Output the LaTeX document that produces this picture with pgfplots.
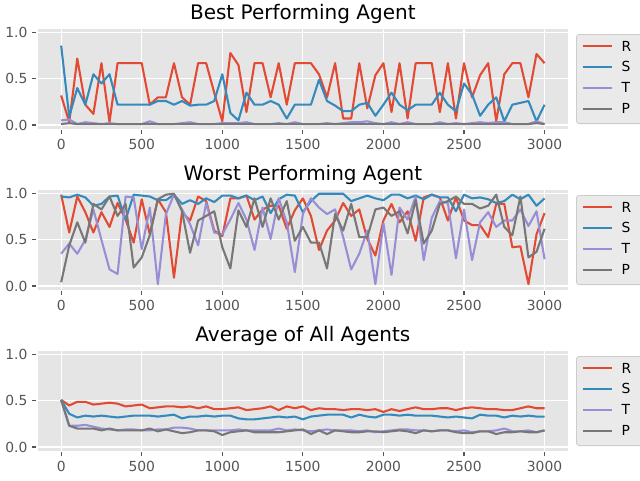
\documentclass[border=0pt]{standalone}
\usepackage{pgfplots}
\usepackage{pgfplotstable}
\pgfplotsset{compat=1.18}
\usepackage{fontspec}
\setmainfont{DejaVu Sans}

\definecolor{ggR}{HTML}{E24A33}
\definecolor{ggS}{HTML}{348ABD}
\definecolor{ggT}{HTML}{988ED5}
\definecolor{ggP}{HTML}{777777}
\definecolor{ggbg}{HTML}{E5E5E5}
\definecolor{ggleg}{HTML}{EAEAEA}
\definecolor{ggedge}{HTML}{CCCCCC}
\definecolor{gg555}{HTML}{555555}

\pgfplotstableread{
x R S T P
0 0.32 0.86 0.05 0.01
50 0.03 0.09 0.06 0.02
100 0.72 0.40 0.01 0.01
150 0.22 0.22 0.03 0.01
200 0.12 0.55 0.02 0.01
250 0.67 0.45 0.01 0.01
300 0.03 0.55 0.02 0.01
350 0.67 0.22 0.01 0.01
400 0.67 0.22 0.01 0.01
450 0.67 0.22 0.01 0.01
500 0.67 0.22 0.01 0.01
550 0.22 0.22 0.04 0.01
600 0.30 0.26 0.01 0.01
650 0.30 0.26 0.01 0.01
700 0.67 0.22 0.01 0.01
750 0.30 0.26 0.02 0.01
800 0.22 0.21 0.03 0.01
850 0.67 0.22 0.01 0.01
900 0.67 0.22 0.01 0.01
950 0.35 0.26 0.01 0.01
1000 0.04 0.55 0.02 0.01
1050 0.78 0.13 0.02 0.01
1100 0.65 0.05 0.02 0.01
1150 0.14 0.35 0.03 0.01
1200 0.67 0.22 0.01 0.01
1250 0.67 0.22 0.01 0.01
1300 0.30 0.26 0.01 0.01
1350 0.67 0.22 0.02 0.01
1400 0.22 0.07 0.01 0.01
1450 0.67 0.22 0.03 0.01
1500 0.67 0.22 0.01 0.01
1550 0.67 0.22 0.01 0.01
1600 0.55 0.49 0.01 0.01
1650 0.30 0.26 0.02 0.01
1700 0.67 0.21 0.01 0.01
1750 0.07 0.15 0.02 0.01
1800 0.07 0.15 0.03 0.01
1850 0.67 0.22 0.03 0.01
1900 0.18 0.24 0.04 0.01
1950 0.54 0.10 0.02 0.01
2000 0.67 0.22 0.01 0.01
2050 0.14 0.35 0.03 0.01
2100 0.67 0.22 0.01 0.01
2150 0.07 0.16 0.03 0.01
2200 0.67 0.22 0.01 0.01
2250 0.67 0.22 0.01 0.01
2300 0.67 0.22 0.01 0.01
2350 0.14 0.35 0.03 0.01
2400 0.67 0.22 0.01 0.01
2450 0.07 0.15 0.02 0.01
2500 0.67 0.45 0.01 0.01
2550 0.30 0.33 0.02 0.01
2600 0.54 0.10 0.03 0.01
2650 0.67 0.22 0.02 0.01
2700 0.04 0.30 0.03 0.01
2750 0.55 0.04 0.03 0.01
2800 0.67 0.22 0.01 0.01
2850 0.67 0.24 0.01 0.01
2900 0.30 0.26 0.01 0.01
2950 0.77 0.04 0.04 0.02
3000 0.67 0.22 0.01 0.01
}\best

\pgfplotstableread{
x R S T P
0 0.99 0.97 0.35 0.04
50 0.58 0.96 0.46 0.44
100 0.97 0.99 0.35 0.69
150 0.80 0.96 0.50 0.47
200 0.58 0.87 0.83 0.89
250 0.80 0.89 0.50 0.83
300 0.64 0.97 0.18 0.97
350 0.90 0.98 0.13 0.76
400 0.72 0.72 0.97 0.89
450 0.47 0.99 0.96 0.20
500 0.94 0.98 0.40 0.31
550 0.56 0.97 0.85 0.55
600 0.94 0.93 0.02 0.94
650 0.80 0.93 0.78 0.99
700 0.09 0.99 0.99 1.00
750 0.80 0.89 0.83 0.81
800 0.71 0.93 0.67 0.36
850 0.97 0.89 0.44 0.71
900 0.92 0.95 0.90 0.76
950 0.60 0.91 0.58 0.81
1000 0.54 0.98 0.56 0.42
1050 0.95 0.98 0.72 0.19
1100 0.95 0.95 0.90 0.82
1150 0.98 0.98 0.72 0.64
1200 0.72 0.93 0.39 0.95
1250 0.83 0.97 0.85 0.64
1300 0.87 0.79 0.51 0.95
1350 0.87 0.94 0.95 0.72
1400 0.62 0.99 0.69 0.92
1450 0.82 0.98 0.15 0.49
1500 0.95 0.80 0.78 0.64
1550 0.76 0.92 0.95 0.47
1600 0.39 1.00 0.85 0.47
1650 0.60 1.00 0.78 0.19
1700 0.71 1.00 0.83 0.78
1750 0.90 1.00 0.53 0.60
1800 0.76 0.92 0.18 0.89
1850 0.83 0.95 0.35 0.53
1900 0.51 0.98 0.60 0.53
1950 0.33 0.95 0.02 0.83
2000 0.71 0.93 0.68 0.85
2050 0.89 0.99 0.12 0.76
2100 0.69 0.99 0.85 0.81
2150 0.81 0.95 0.72 0.57
2200 0.49 0.98 0.97 0.93
2250 0.96 0.94 0.28 0.46
2300 0.99 0.99 0.74 0.60
2350 0.96 0.96 0.92 0.89
2400 0.71 0.96 0.90 0.92
2450 0.96 0.81 0.30 0.97
2500 0.71 0.99 0.83 0.89
2550 0.66 0.95 0.28 0.89
2600 0.66 0.96 0.69 0.84
2650 0.53 0.94 0.80 0.87
2700 0.89 0.90 0.64 0.99
2750 0.89 0.92 0.71 0.64
2800 0.42 0.99 0.71 0.55
2850 0.43 0.94 0.83 0.97
2900 0.02 0.99 0.65 0.31
2950 0.56 0.87 0.81 0.37
3000 0.79 0.95 0.29 0.62
}\worst

\pgfplotstableread{
x R S T P
0 0.51 0.51 0.51 0.51
50 0.45 0.36 0.23 0.23
100 0.49 0.32 0.23 0.20
150 0.49 0.34 0.24 0.20
200 0.46 0.33 0.22 0.20
250 0.47 0.34 0.20 0.18
300 0.48 0.33 0.19 0.20
350 0.47 0.32 0.18 0.18
400 0.44 0.33 0.19 0.18
450 0.45 0.34 0.19 0.18
500 0.46 0.34 0.18 0.18
550 0.42 0.34 0.18 0.20
600 0.43 0.33 0.19 0.17
650 0.44 0.34 0.19 0.19
700 0.44 0.35 0.21 0.17
750 0.43 0.31 0.21 0.15
800 0.44 0.33 0.20 0.16
850 0.42 0.33 0.18 0.18
900 0.44 0.34 0.18 0.18
950 0.41 0.33 0.18 0.17
1000 0.41 0.34 0.18 0.13
1050 0.42 0.34 0.18 0.16
1100 0.43 0.31 0.19 0.17
1150 0.40 0.30 0.18 0.18
1200 0.41 0.30 0.18 0.16
1250 0.42 0.31 0.18 0.16
1300 0.44 0.32 0.18 0.16
1350 0.40 0.33 0.20 0.16
1400 0.44 0.32 0.18 0.17
1450 0.42 0.33 0.19 0.18
1500 0.44 0.30 0.18 0.19
1550 0.40 0.33 0.17 0.14
1600 0.42 0.34 0.18 0.18
1650 0.41 0.35 0.19 0.14
1700 0.41 0.35 0.18 0.18
1750 0.40 0.35 0.18 0.17
1800 0.41 0.32 0.18 0.16
1850 0.41 0.35 0.17 0.16
1900 0.40 0.33 0.18 0.17
1950 0.41 0.32 0.16 0.17
2000 0.38 0.35 0.17 0.16
2050 0.41 0.35 0.18 0.17
2100 0.39 0.34 0.19 0.18
2150 0.41 0.35 0.19 0.17
2200 0.43 0.34 0.18 0.15
2250 0.41 0.34 0.18 0.18
2300 0.41 0.34 0.17 0.17
2350 0.42 0.33 0.18 0.18
2400 0.42 0.32 0.18 0.18
2450 0.40 0.33 0.17 0.16
2500 0.42 0.32 0.18 0.15
2550 0.43 0.31 0.16 0.15
2600 0.42 0.35 0.17 0.17
2650 0.41 0.34 0.17 0.17
2700 0.41 0.34 0.18 0.14
2750 0.40 0.32 0.20 0.16
2800 0.40 0.34 0.17 0.16
2850 0.42 0.33 0.17 0.17
2900 0.44 0.34 0.18 0.16
2950 0.42 0.33 0.16 0.16
3000 0.42 0.33 0.18 0.18
}\avg

\pgfplotsset{
  ggstyle/.style={
    scale only axis, width=398.8pt, height=76.1pt,
    anchor=south west,
    xmin=-150, xmax=3150, ymin=-0.05, ymax=1.05,
    xtick={0,500,...,3000}, ytick={0,0.5,1},
    axis background/.style={fill=ggbg},
    axis line style={white, line width=0.78pt},
    grid=major, major grid style={white, line width=0.83pt},
    tick align=outside, tick pos=left, major tick length=3.65pt,
    tick style={color=gg555, line width=0.83pt},
    ticklabel style={font=\fontsize{10.4}{12}\selectfont, text=gg555},
    yticklabel style={/pgf/number format/fixed, /pgf/number format/fixed zerofill, /pgf/number format/precision=1},
    xticklabel style={/pgf/number format/set thousands separator={}},
    /pgf/number format/assume math mode=true,
    every axis title/.style={at={(0.5,1)}, anchor=base, yshift=6.6pt, font=\fontsize{15}{18}\selectfont, text=black},
    every axis plot/.append style={line width=1.56pt, line join=round, mark=none},
    legend style={at={(1,1)}, anchor=north west, xshift=5.5pt, yshift=-4.4pt,
      fill=ggleg, draw=ggedge, line width=0.6pt, rounded corners=2pt,
      font=\fontsize{10.4}{12}\selectfont,
      inner xsep=3.75pt, inner ysep=4.85pt, row sep=5.6pt,
      cells={anchor=base west},
      nodes={inner sep=0pt, text height=7.6pt, text depth=2.5pt},
      /tikz/every odd column/.append style={column sep=6.75pt}},
    legend image code/.code={\draw[#1, line width=1.56pt, rounded corners=0pt] (0pt,3.8pt) -- (21.75pt,3.8pt);},
  }
}

\begin{document}
\begin{tikzpicture}
\path[use as bounding box] (0pt,0pt) rectangle (480pt,360pt);

\begin{axis}[ggstyle, at={(27.75pt,262.8pt)}, title={Best Performing Agent}]
\addplot[ggR] table[x=x,y=R] {\best};
\addplot[ggS] table[x=x,y=S] {\best};
\addplot[ggT] table[x=x,y=T] {\best};
\addplot[ggP] table[x=x,y=P] {\best};
\addlegendentry{R\hspace*{4.8pt}}
\addlegendentry{S}
\addlegendentry{T}
\addlegendentry{P}
\end{axis}

\begin{axis}[ggstyle, at={(27.75pt,142.05pt)}, title={Worst Performing Agent}]
\addplot[ggR] table[x=x,y=R] {\worst};
\addplot[ggS] table[x=x,y=S] {\worst};
\addplot[ggT] table[x=x,y=T] {\worst};
\addplot[ggP] table[x=x,y=P] {\worst};
\addlegendentry{R\hspace*{4.8pt}}
\addlegendentry{S}
\addlegendentry{T}
\addlegendentry{P}
\end{axis}

\begin{axis}[ggstyle, at={(27.75pt,21.3pt)}, title={Average of All Agents}]
\addplot[ggR] table[x=x,y=R] {\avg};
\addplot[ggS] table[x=x,y=S] {\avg};
\addplot[ggT] table[x=x,y=T] {\avg};
\addplot[ggP] table[x=x,y=P] {\avg};
\addlegendentry{R\hspace*{4.8pt}}
\addlegendentry{S}
\addlegendentry{T}
\addlegendentry{P}
\end{axis}
\end{tikzpicture}
\end{document}
